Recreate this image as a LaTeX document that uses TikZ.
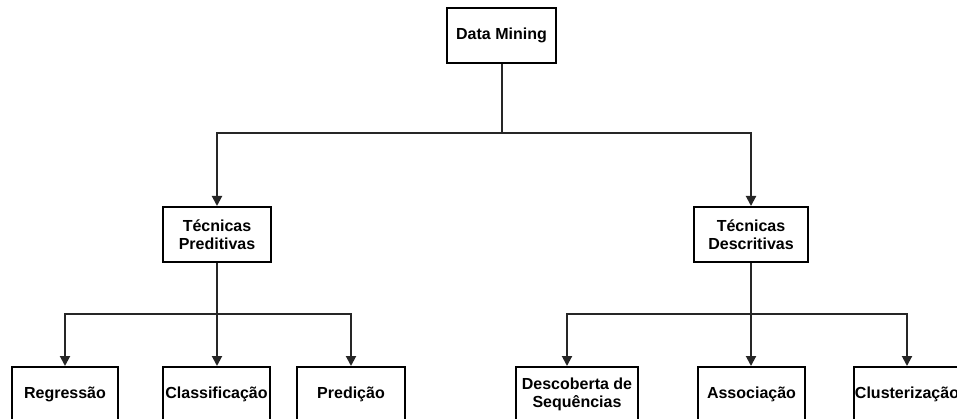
\documentclass[tikz,border=0pt]{standalone}
\usepackage{fontspec}
\setmainfont{Liberation Sans}
\usetikzlibrary{arrows.meta,calc}
\tikzset{
  box/.style={draw=black, line width=2pt, fill=white, rectangle, inner sep=0pt,
    minimum height=55pt, align=center,
    font=\fontsize{16}{18}\selectfont\bfseries},
  link/.style={draw=black!85, line width=2pt},
  arr/.style={link, -{Triangle[length=10pt,width=10pt]}}
}
\begin{document}
\begin{tikzpicture}[x=1pt,y=-1pt]
  \useasboundingbox (0,0) rectangle (957,419);
  \begin{scope}
  \clip (0,0) rectangle (957,419);
  % root
  \node[box, minimum width=109pt] (dm) at (501.5,35.5) {Data Mining};
  % second level
  \node[box, minimum width=108pt] (tp) at (217,234.5) {Técnicas\\Preditivas};
  \node[box, minimum width=114pt] (td) at (751,234.5) {Técnicas\\Descritivas};
  % leaves
  \node[box, minimum width=106pt] (reg) at (65,394.5) {Regressão};
  \node[box, minimum width=107pt] (cla) at (216.5,394.5) {Classificação};
  \node[box, minimum width=108pt] (pre) at (351,394.5) {Predição};
  \node[box, minimum width=122pt] (des) at (577,394.5) {Descoberta de\\Sequências};
  \node[box, minimum width=107pt] (ass) at (751.5,394.5) {Associação};
  \node[box, minimum width=107pt] (clu) at (907,394.5) {Clusterização};

  % junction points
  \coordinate (j0) at (501.5,133.5);
  \coordinate (jl) at (217,314);
  \coordinate (jr) at (751,314);
  \coordinate (jdes) at (567,314);

  % root branches
  \draw[link] (dm.south) -- (j0);
  \draw[arr] (j0) -| (tp.north);
  \draw[arr] (j0) -| (td.north);

  % predictive branches
  \draw[link] (tp.south) -- (jl);
  \draw[arr] (jl) -| (reg.north);
  \draw[arr] (jl) -- (cla.north -| jl);
  \draw[arr] (jl) -| (pre.north);

  % descriptive branches
  \draw[link] (td.south) -- (jr);
  \draw[arr] (jr) -| (jdes) -- (jdes |- des.north);
  \draw[arr] (jr) -- (ass.north -| jr);
  \draw[arr] (jr) -| (clu.north);
  \end{scope}
\end{tikzpicture}
\end{document}
